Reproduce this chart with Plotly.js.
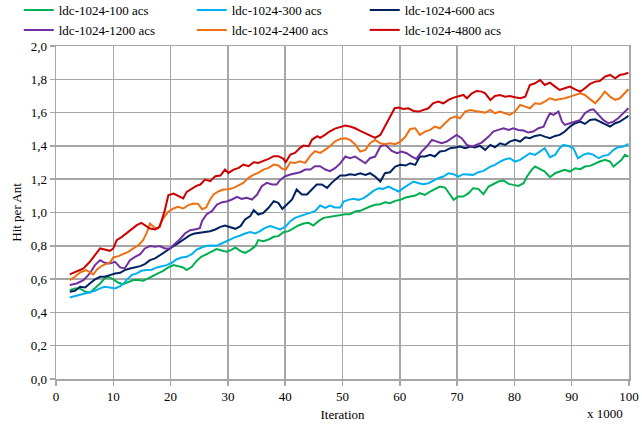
<!DOCTYPE html>
<html>
<head>
<meta charset="utf-8">
<script src="https://cdn.plot.ly/plotly-3.0.1.min.js"></script>
<style>
  html, body { margin: 0; padding: 0; background: #fff; }
  #chart { width: 642px; height: 426px; }
</style>
</head>
<body>
<div id="chart"></div>
<script>
// Hit per Ant over training iterations (in thousands) for six colony sizes.

const seriesNames = [
  'ldc-1024-100 acs', 'ldc-1024-300 acs', 'ldc-1024-600 acs',
  'ldc-1024-1200 acs', 'ldc-1024-2400 acs', 'ldc-1024-4800 acs'
];
const seriesColors = ['#00b050', '#00b0f0', '#002060', '#7030a0', '#ee7014', '#cc0000'];

const acs100X = [2.4,3.3,4.2,5.1,5.9,6.8,7.7,8.5,9.1,10,10.9,11.7,12.6,13.5,14.4,15.2,16.1,17,17.8,18.7,19.6,20.5,21.3,22.2,22.8,23.7,24.5,25.4,26.3,27.2,28,28.9,29.8,30.6,31.3,32.2,33,33.9,34.8,35.3,36.2,37.1,38,38.8,39.7,40.6,41.5,42.3,43.2,44.1,44.9,45.8,46.7,47.6,48.4,49.3,50.5,51.3,52.2,53.1,54,54.8,55.7,56.6,57.4,58.3,59.2,60.1,61,61.8,62.7,63.5,64.4,65.3,66.1,67,67.9,68.8,69.4,70.2,71.1,72,72.8,73.7,74.6,75.5,76.3,77.2,78.1,79,79.8,80.7,81.6,82.2,83,83.6,84.5,85.3,86.2,87.1,87.9,88.8,89.7,90.6,91.5,92.3,93.2,94.1,94.9,95.8,96.7,97.3,97.8,98.7,99.3,99.9];
const acs100Y = [0.534,0.544,0.544,0.524,0.518,0.544,0.574,0.604,0.614,0.598,0.578,0.57,0.584,0.594,0.594,0.59,0.604,0.618,0.634,0.65,0.67,0.684,0.678,0.67,0.654,0.674,0.708,0.735,0.75,0.765,0.78,0.772,0.764,0.776,0.79,0.768,0.758,0.774,0.798,0.834,0.828,0.838,0.854,0.858,0.882,0.888,0.908,0.922,0.934,0.938,0.922,0.948,0.968,0.974,0.978,0.984,0.99,0.99,1.006,1.01,1.026,1.036,1.046,1.05,1.062,1.056,1.07,1.076,1.09,1.096,1.102,1.116,1.106,1.126,1.142,1.156,1.15,1.102,1.076,1.096,1.096,1.116,1.146,1.142,1.11,1.156,1.172,1.186,1.192,1.172,1.166,1.16,1.176,1.216,1.256,1.276,1.26,1.246,1.212,1.236,1.246,1.256,1.246,1.266,1.26,1.276,1.28,1.296,1.306,1.316,1.306,1.276,1.292,1.316,1.346,1.336];

const acs300X = [2.4,3.3,4.2,5.1,5.9,6.8,7.7,8.5,9.4,10.3,11.2,11.7,12.3,13.2,14.1,14.9,15.8,16.7,17.6,18.4,19.3,20.2,21,21.9,22.8,23.7,24.5,25.4,26.3,27.2,28,28.9,29.8,30.6,31.3,32.2,33,33.9,34.8,35.6,36.5,37.4,38.3,39.1,40,40.9,41.7,42.6,43.5,44.4,45.2,46.1,47,47.8,48.7,49.6,50.2,51,51.9,52.8,53.7,54.5,55.4,56.3,57.1,58,58.9,59.8,60.6,61.5,62.4,63.3,64.1,65,65.8,66.7,67.6,68.5,69.4,70.2,71.1,72,72.8,73.7,74.6,75.8,76.6,77.5,78.4,79.2,80.1,81,81.9,82.7,83.6,84.5,85.3,86.2,87.1,87.9,88.5,89.4,90.3,91.1,92,92.9,93.8,94.7,95.5,96.4,97.3,98.1,99,99.9];
const acs300Y = [0.49,0.498,0.504,0.514,0.518,0.53,0.544,0.554,0.55,0.544,0.558,0.57,0.594,0.624,0.634,0.65,0.654,0.656,0.67,0.678,0.684,0.698,0.718,0.73,0.734,0.75,0.776,0.79,0.8,0.802,0.8,0.814,0.83,0.84,0.852,0.862,0.874,0.882,0.874,0.888,0.908,0.918,0.908,0.898,0.914,0.948,0.968,0.978,0.988,0.998,1.008,1.042,1.028,1.042,1.03,1.03,1.066,1.076,1.082,1.076,1.086,1.106,1.13,1.146,1.142,1.156,1.142,1.126,1.146,1.166,1.186,1.176,1.17,1.176,1.19,1.206,1.216,1.236,1.23,1.216,1.23,1.226,1.226,1.242,1.25,1.276,1.286,1.306,1.32,1.326,1.306,1.316,1.336,1.356,1.346,1.366,1.386,1.332,1.346,1.386,1.406,1.4,1.386,1.326,1.346,1.356,1.346,1.326,1.34,1.346,1.376,1.392,1.396,1.412];

const acs600X = [2.4,3.3,4.2,5.1,5.9,6.8,7.7,8.5,9.4,10.3,11.2,12,12.9,13.8,14.7,15.5,16.4,17.3,18.1,19,19.9,20.8,21.6,22.5,23.4,24.2,25.1,26,26.9,27.8,28.7,29.5,30.4,31.3,32.2,33,33.9,34.5,35.3,36.2,37.1,38,38.8,39.5,40.3,41.2,42,42.9,43.8,44.7,45.5,46.4,47.3,48.1,49,49.6,50.5,51.3,52.2,53.1,54,54.8,55.7,56.6,57.4,58.3,59.2,60.1,61,61.8,62.7,63.5,64.4,65.3,66.1,67,67.9,68.8,69.7,70.5,71.4,72.3,73.1,74,74.9,75.8,76.6,77.5,78.4,79.2,80.1,81,81.9,82.7,83.6,84.5,85.3,86.2,87.1,87.9,88.8,89.7,90.6,91.5,92.3,93.2,94.1,94.9,95.8,96.7,97.6,98.4,99.3,99.9];
const acs600Y = [0.524,0.53,0.554,0.55,0.574,0.598,0.614,0.614,0.624,0.634,0.638,0.654,0.664,0.67,0.678,0.69,0.714,0.724,0.744,0.764,0.784,0.804,0.824,0.844,0.864,0.874,0.878,0.882,0.888,0.898,0.914,0.922,0.914,0.902,0.918,0.958,0.978,1.014,0.988,0.998,1.028,1.068,1.058,1.022,1.048,1.078,1.138,1.108,1.108,1.138,1.168,1.168,1.148,1.178,1.205,1.222,1.222,1.23,1.226,1.236,1.226,1.236,1.216,1.186,1.236,1.242,1.276,1.286,1.282,1.296,1.286,1.336,1.336,1.346,1.336,1.366,1.37,1.386,1.39,1.396,1.386,1.396,1.39,1.4,1.376,1.406,1.392,1.416,1.406,1.426,1.436,1.426,1.452,1.446,1.46,1.466,1.456,1.446,1.46,1.466,1.486,1.516,1.536,1.546,1.532,1.556,1.56,1.546,1.532,1.516,1.536,1.546,1.566,1.58];

const acs1200X = [2.4,3.6,4.8,5.9,6.8,7.7,8.5,9.4,10.3,11.2,12,12.9,13.8,14.7,15.5,16.4,17.3,18.1,19,19.9,20.8,21.6,22.5,23.4,24.2,25.1,25.5,26.3,27.2,28.1,29,29.8,30.7,31.6,32.4,33.3,34.2,35.1,35.9,36.8,37.7,38.5,39.1,40,40.9,41.7,42.6,43.5,44.4,45.2,46.1,47,47.8,48.7,49.6,50.5,51.3,52.2,53.1,54,54.8,55.7,56.6,57.4,58.6,59.5,60.3,61.2,62.1,62.9,63.8,64.7,65.6,66.5,67.3,68.2,69.1,69.9,70.8,71.7,72.6,73.4,74.3,75.5,76.3,77.2,78.1,79,79.8,80.7,81.6,82.4,83.3,84.2,85.1,85.6,86.2,86.8,87.7,88.3,88.8,89.7,90.6,91.5,92.3,93.2,93.8,94.7,95.5,96.4,97.3,98.1,99,99.9];
const acs1200Y = [0.564,0.574,0.594,0.634,0.684,0.714,0.698,0.694,0.704,0.67,0.664,0.714,0.734,0.75,0.784,0.798,0.794,0.798,0.784,0.784,0.814,0.838,0.874,0.894,0.898,0.906,0.95,0.99,1.008,1.048,1.062,1.066,1.078,1.094,1.082,1.088,1.078,1.108,1.158,1.178,1.168,1.168,1.194,1.218,1.228,1.234,1.242,1.258,1.258,1.278,1.278,1.258,1.248,1.266,1.295,1.336,1.326,1.336,1.316,1.296,1.326,1.336,1.396,1.41,1.37,1.356,1.366,1.356,1.336,1.322,1.366,1.396,1.436,1.426,1.416,1.426,1.446,1.466,1.446,1.406,1.396,1.406,1.42,1.456,1.486,1.496,1.506,1.496,1.506,1.496,1.492,1.48,1.486,1.506,1.516,1.556,1.596,1.586,1.606,1.546,1.526,1.536,1.546,1.556,1.596,1.616,1.62,1.586,1.556,1.536,1.546,1.566,1.596,1.626];

const acs2400X = [2.4,3.3,4.2,5.3,6.5,7.2,8,9.4,10,10.9,11.7,12.6,13.5,14.4,15.2,15.8,16.4,17,17.8,18.7,19.6,20.5,21.3,22.2,23.1,24,24.8,25.5,26.2,26.9,27.5,28.4,29.2,30.1,31,31.9,32.7,33.6,34.5,35.3,36.2,37.1,38,38.8,39.5,40.1,40.9,41.7,42.6,43.5,44.4,45.2,46.1,47,47.8,48.7,49.6,50.5,51.3,52.2,53.1,54,54.8,55.7,56.6,57.4,58.3,59.2,60.1,61,61.8,62.7,63.5,64.4,65.3,66.1,67,67.9,68.8,69.7,70.5,71.4,72.3,73.1,74,74.9,75.8,76.6,77.5,78.4,79.2,80.1,81,81.9,82.7,83.6,84.5,85.3,86.2,87.1,87.9,88.8,89.7,90.6,91.5,92.3,93.2,94.1,94.9,95.8,96.7,97.6,98.4,99.3,99.9];
const acs2400Y = [0.594,0.614,0.64,0.654,0.628,0.66,0.68,0.7,0.73,0.738,0.75,0.764,0.784,0.804,0.834,0.874,0.934,0.914,0.904,0.964,1.004,1.024,1.034,1.024,1.044,1.054,1.052,1.02,1.03,1.078,1.108,1.128,1.138,1.14,1.148,1.162,1.178,1.208,1.228,1.238,1.258,1.268,1.288,1.282,1.262,1.258,1.302,1.298,1.308,1.298,1.342,1.368,1.358,1.378,1.398,1.428,1.442,1.446,1.436,1.41,1.366,1.376,1.416,1.436,1.416,1.41,1.416,1.41,1.426,1.456,1.502,1.506,1.466,1.486,1.496,1.516,1.506,1.536,1.566,1.576,1.566,1.606,1.616,1.61,1.606,1.6,1.616,1.596,1.606,1.596,1.586,1.606,1.646,1.636,1.626,1.656,1.652,1.666,1.686,1.676,1.68,1.686,1.696,1.706,1.716,1.706,1.68,1.656,1.686,1.726,1.696,1.676,1.686,1.716,1.74];

const acs4800X = [2.4,3.6,4.8,5.9,6.8,7.7,8.5,9.4,10,10.6,11.5,12.3,13.2,14.1,14.9,15.5,16.4,17.3,18.1,19,19.6,20.5,21.3,22.2,22.8,23.7,24.5,25.2,26,26.9,27.8,28.7,29.5,30.1,31,31.9,32.7,33.6,34.5,35.3,36.2,37.1,38,38.8,39.7,40.1,40.9,41.7,42.6,43.2,44.1,44.7,45.6,46.1,47,47.8,48.7,49.6,50.5,51.3,52.2,53.1,54,54.8,55.7,56.6,57.4,58.3,59.1,59.8,60.6,61.5,62.4,63.3,64.1,65,65.8,66.7,67.6,68.5,69.4,70.2,71.1,71.7,72.6,73.4,74.3,74.9,75.8,76.6,77.5,78.4,79.2,80.1,81,81.9,82.7,83.6,84.5,85.3,86.2,87.1,87.9,88.8,89.7,90.6,91.5,92.3,93.2,94.1,94.9,95.8,96.7,97.6,98.4,99.3,99.9];
const acs4800Y = [0.628,0.644,0.664,0.704,0.744,0.784,0.778,0.77,0.784,0.834,0.854,0.874,0.898,0.924,0.938,0.924,0.904,0.898,0.914,1.014,1.104,1.114,1.1,1.084,1.124,1.144,1.16,1.168,1.198,1.188,1.218,1.222,1.258,1.238,1.258,1.268,1.288,1.278,1.302,1.298,1.308,1.322,1.338,1.338,1.322,1.302,1.348,1.358,1.388,1.402,1.398,1.438,1.458,1.448,1.468,1.488,1.504,1.512,1.522,1.516,1.506,1.49,1.476,1.462,1.448,1.466,1.516,1.576,1.626,1.63,1.622,1.626,1.61,1.606,1.616,1.626,1.656,1.666,1.656,1.676,1.69,1.696,1.706,1.686,1.716,1.73,1.726,1.716,1.676,1.7,1.706,1.696,1.7,1.692,1.686,1.696,1.766,1.776,1.796,1.766,1.78,1.756,1.736,1.746,1.756,1.74,1.726,1.746,1.772,1.786,1.79,1.816,1.826,1.806,1.826,1.832,1.84];

const xValues = [acs100X, acs300X, acs600X, acs1200X, acs2400X, acs4800X];
const yValues = [acs100Y, acs300Y, acs600Y, acs1200Y, acs2400Y, acs4800Y];

const xTicks = [0, 10, 20, 30, 40, 50, 60, 70, 80, 90, 100];
const yTicks = [0, 0.2, 0.4, 0.6, 0.8, 1.0, 1.2, 1.4, 1.6, 1.8, 2.0];

const FONT = '"Liberation Serif", "Times New Roman", serif';
const GRID = '#a6a6a6';

const traces = seriesNames.map((name, i) => ({
  type: 'scatter',
  mode: 'lines',
  name: name,
  x: xValues[i],
  y: yValues[i],
  line: { color: seriesColors[i], width: 2 }
}));

const layout = {
  width: 642,
  height: 426,
  margin: { l: 56, r: 13, t: 46, b: 47, autoexpand: false },
  paper_bgcolor: '#ffffff',
  plot_bgcolor: '#ffffff',
  separators: ', ',
  font: { family: FONT, size: 13, color: '#000000' },
  showlegend: true,
  legend: {
    orientation: 'h',
    x: -0.065, xanchor: 'left',
    y: 1.153, yanchor: 'top',
    entrywidth: 128, entrywidthmode: 'pixels',
    itemwidth: 30,
    font: { family: FONT, size: 13, color: '#000000' },
    bgcolor: 'rgba(0,0,0,0)'
  },
  xaxis: {
    range: [0, 100],
    tickvals: xTicks,
    ticktext: xTicks.map(String),
    showgrid: true, gridcolor: GRID, gridwidth: 1.5,
    showline: true, linecolor: GRID, linewidth: 1.5, mirror: true,
    ticks: 'outside', ticklen: 5, tickcolor: GRID, tickwidth: 1.5,
    zeroline: false,
    tickfont: { family: FONT, size: 13 },
    title: { text: 'Iteration', font: { family: FONT, size: 13 }, standoff: 7 }
  },
  yaxis: {
    range: [0, 2],
    tickvals: yTicks,
    tickformat: '.1f',
    showgrid: true, gridcolor: GRID, gridwidth: 1.5,
    showline: true, linecolor: GRID, linewidth: 1.5, mirror: true,
    ticks: 'outside', ticklen: 5, tickcolor: GRID, tickwidth: 1.5,
    zeroline: false,
    tickfont: { family: FONT, size: 13 },
    title: { text: 'Hit per Ant', font: { family: FONT, size: 13 }, standoff: 6 }
  },
  annotations: [{
    text: 'x 1000',
    xref: 'paper', yref: 'paper',
    x: 0.993, y: -0.105,
    xanchor: 'right', yanchor: 'middle',
    showarrow: false,
    font: { family: FONT, size: 13, color: '#000000' }
  }]
};

Plotly.newPlot('chart', traces, layout, { displayModeBar: false, staticPlot: true });
</script>
</body>
</html>
